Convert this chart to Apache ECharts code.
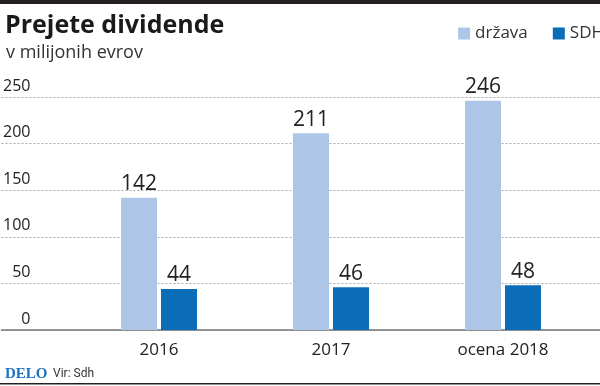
<!DOCTYPE html>
<html>
<head>
<meta charset="utf-8">
<script src="https://cdn.jsdelivr.net/npm/echarts@6/dist/echarts.min.js"></script>
<style>
html,body{margin:0;padding:0;background:#fff;}
#c{width:600px;height:386px;}
</style>
</head>
<body>
<div id="c"></div>
<script>
var categories = ['2016', '2017', 'ocena 2018'];
var drzava = [142, 211, 246];
var sdh = [44, 46, 48];
var yTicks = [0, 50, 100, 150, 200, 250];
var seriesNames = ['država', 'SDH'];

var FONT = '"Open Sans", "Noto Sans", sans-serif';
var LIGHT = '#adc6e8';
var DARK = '#0b6cb8';

var chart = echarts.init(document.getElementById('c'), null, {renderer: 'canvas'});
var option = {
  animation: false,
  backgroundColor: '#fff',
  textStyle: {fontFamily: FONT},
  title: [
    {text: 'Prejete dividende', left: 0, top: 8,
     textStyle: {fontFamily: FONT, fontSize: 25, fontWeight: 'bold', color: '#1a1a1a'}},
    {text: 'v milijonih evrov', left: 1, top: 39,
     textStyle: {fontFamily: FONT, fontSize: 18, fontWeight: 'normal', color: '#333'}},
    {text: 'DELO', left: 0, top: 362,
     textStyle: {fontFamily: '"Liberation Serif", "DejaVu Serif", serif', fontSize: 15, fontWeight: 'bold', color: '#1d72c0'}},
    {text: 'Vir: Sdh', left: 48, top: 363,
     textStyle: {fontFamily: 'Roboto, sans-serif', fontSize: 12, fontWeight: 'normal', color: '#333'}}
  ],
  legend: {
    right: -9, top: 20,
    itemWidth: 12, itemHeight: 12, itemGap: 25,
    icon: 'rect',
    textStyle: {fontFamily: FONT, fontSize: 17, color: '#333'},
    data: seriesNames
  },
  grid: [
    {left: 0, right: 0, top: 97, bottom: 56},
    {left: 73, right: 11, top: 97, bottom: 56}
  ],
  xAxis: [
    {type: 'value', gridIndex: 0, min: 0, max: 1,
     axisLine: {show: true, lineStyle: {color: '#777', width: 1.5}},
     axisTick: {show: false}, axisLabel: {show: false}, splitLine: {show: false}},
    {type: 'category', gridIndex: 1, data: categories,
     axisLine: {show: false}, axisTick: {show: false},
     axisLabel: {fontFamily: FONT, fontSize: 17, color: '#222', margin: 12}}
  ],
  yAxis: [
    {type: 'value', gridIndex: 0, min: yTicks[0], max: yTicks[yTicks.length - 1], interval: 50,
     axisLine: {show: false}, axisTick: {show: false},
     axisLabel: {inside: true, align: 'right', margin: 29, verticalAlign: 'bottom',
                 padding: [0, 0, 3, 0], fontFamily: FONT, fontSize: 16, color: '#222',
                 formatter: function (v) { return String(v); }},
     splitLine: {show: true, lineStyle: {type: [2, 2], color: '#aaa', width: 1}}},
    {type: 'value', gridIndex: 1, min: yTicks[0], max: yTicks[yTicks.length - 1], interval: 50,
     show: false}
  ],
  series: [
    {name: seriesNames[0], type: 'bar', xAxisIndex: 1, yAxisIndex: 1, data: drzava,
     barWidth: 36, barGap: '11%', itemStyle: {color: LIGHT},
     label: {show: true, position: 'top', distance: 3, fontFamily: FONT, fontSize: 21, color: '#222'}},
    {name: seriesNames[1], type: 'bar', xAxisIndex: 1, yAxisIndex: 1, data: sdh,
     barWidth: 36, barGap: '11%', itemStyle: {color: DARK},
     label: {show: true, position: 'top', distance: 3, fontFamily: FONT, fontSize: 21, color: '#222'}}
  ],
  graphic: [
    {type: 'rect', left: 0, top: 0, shape: {width: 600, height: 4}, style: {fill: '#231f20'}},
    {type: 'rect', left: 0, top: 383, shape: {width: 600, height: 1.5}, style: {fill: '#231f20'}}
  ]
};
chart.setOption(option);
</script>
</body>
</html>
